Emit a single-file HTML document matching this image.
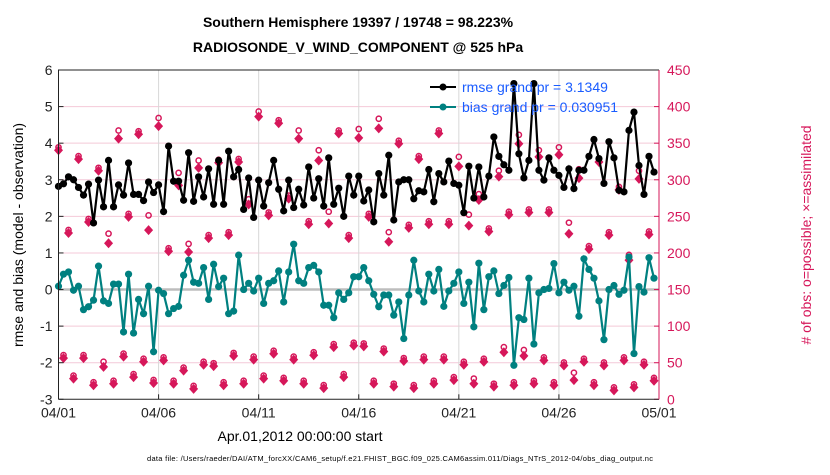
<!DOCTYPE html>
<html><head><meta charset="utf-8"><style>
body{margin:0;background:#fff;width:830px;height:470px;overflow:hidden;font-family:"Liberation Sans",sans-serif}
svg text{font-family:"Liberation Sans",sans-serif}
</style></head><body>
<svg id="chart" width="830" height="470" xmlns="http://www.w3.org/2000/svg">
<text x="358" y="27" text-anchor="middle" font-size="14" font-weight="bold">Southern Hemisphere 19397 / 19748 = 98.223%</text>
<text x="358" y="52" text-anchor="middle" font-size="14" font-weight="bold">RADIOSONDE_V_WIND_COMPONENT @ 525 hPa</text>
<text transform="translate(23,235) rotate(-90)" text-anchor="middle" font-size="14">rmse and bias (model - observation)</text>
<text transform="translate(811,235) rotate(-90)" text-anchor="middle" font-size="14" fill="#d6175a"># of obs: o=possible; ×=assimilated</text>
<text x="300" y="441" text-anchor="middle" font-size="14">Apr.01,2012 00:00:00 start</text>
<text x="400" y="461" text-anchor="middle" font-size="7.5" textLength="506">data file: /Users/raeder/DAI/ATM_forcXX/CAM6_setup/f.e21.FHIST_BGC.f09_025.CAM6assim.011/Diags_NTrS_2012-04/obs_diag_output.nc</text>
<g id="grid"></g><g id="obs"></g><g id="series"></g><g id="axes"></g>
<g>
<line x1="430" y1="87" x2="456" y2="87" stroke="#000" stroke-width="2"/><circle cx="443" cy="87" r="3.5" fill="#000"/>
<text x="462" y="92" font-size="14" fill="#1a5cff">rmse grand pr = 3.1349</text>
<line x1="430" y1="107" x2="456" y2="107" stroke="#008080" stroke-width="2"/><circle cx="443" cy="107" r="3.5" fill="#008080"/>
<text x="462" y="112" font-size="14" fill="#1a5cff">bias grand pr = 0.030951</text>
</g>
</svg>
<script>
const rmse=[2.82,2.89,3.08,3.0,2.79,2.58,2.88,1.82,2.99,2.26,3.53,2.26,2.86,2.58,3.46,2.6,2.6,2.43,2.94,2.65,2.86,2.13,3.92,2.96,2.96,2.44,3.74,2.41,3.08,2.53,3.3,2.33,3.53,2.33,3.78,3.08,3.28,2.19,3.05,1.97,2.99,2.28,2.92,3.53,2.74,2.15,2.99,2.24,2.74,2.31,3.35,2.5,3.03,2.28,3.6,2.33,2.77,2.0,3.1,2.58,3.1,2.42,2.72,1.85,3.17,2.58,3.67,1.9,2.94,3.0,3.0,2.48,2.7,2.67,3.28,2.4,3.17,2.94,3.51,2.9,2.85,2.1,3.37,2.5,3.35,2.53,3.1,4.17,3.64,3.41,3.26,5.63,3.71,3.05,3.53,5.63,3.26,2.99,3.6,3.26,3.12,2.79,3.3,2.76,3.26,3.26,3.64,4.1,3.58,2.9,4.04,3.6,2.71,2.67,4.35,4.85,3.39,2.6,3.64,3.21];
const bias=[0.09,0.42,0.48,-0.02,0.09,-0.55,-0.47,-0.29,0.64,-0.31,-0.38,0.15,0.15,-1.16,0.42,-1.19,-0.27,-0.66,0.09,-1.7,-0.02,-0.11,-0.66,-0.52,-0.46,0.39,0.8,0.2,0.17,0.6,-0.27,0.69,0.08,0.31,-0.66,-0.59,0.94,0.0,0.17,-0.04,0.31,-0.38,0.17,0.24,0.51,-0.34,0.48,1.24,0.24,0.17,0.6,0.66,0.48,-0.43,-0.43,-0.77,-0.09,-0.27,-0.09,0.35,0.35,0.6,0.24,-0.13,-0.47,-0.15,-0.15,-0.7,-0.34,-1.34,-0.15,0.8,-0.04,-0.34,0.42,-0.04,0.55,-0.46,-0.04,0.17,0.48,-0.38,0.2,-1.02,0.72,-0.55,0.35,0.51,-0.11,0.11,0.33,-2.07,-0.77,-0.82,0.31,-1.49,-0.09,0.0,0.03,0.71,-0.09,0.2,-0.02,0.09,-0.73,0.84,0.55,0.31,-0.31,-1.37,0.0,0.11,-0.13,-0.02,0.89,-1.75,0.08,-0.07,0.87,0.31];
const assim=[343,59,230,31,331,59,245,22,315,47,216,24,359,61,252,33,365,54,234,25,376,56,205,24,295,42,204,17,319,50,223,48,326,22,227,62,327,24,269,57,389,31,254,65,380,28,277,57,359,24,242,63,329,18,243,74,366,33,223,76,360,75,252,24,373,68,218,20,352,55,237,18,331,57,242,24,366,57,242,29,321,50,240,24,275,54,232,20,307,67,255,22,352,62,258,24,334,56,258,22,337,49,229,29,305,54,208,22,327,49,227,15,289,56,193,19,304,50,228,28];
const poss=[343,59,230,31,331,59,245,22,315,50,225,24,366,61,252,33,365,54,250,25,383,56,205,24,308,42,211,17,325,50,223,48,326,22,227,62,327,24,272,57,392,31,254,65,380,28,277,57,366,24,242,63,339,18,255,74,366,33,223,76,368,75,252,24,382,68,227,20,352,55,237,18,331,57,242,24,366,57,242,29,330,50,251,27,279,54,232,20,311,70,255,22,360,66,258,24,339,56,258,22,343,49,240,35,313,54,208,22,327,49,227,15,289,56,196,19,311,50,228,28];
const xTicks=['04/01','04/06','04/11','04/16','04/21','04/26','05/01'];
const leftTicks=[-3,-2,-1,0,1,2,3,4,5,6];
const rightTicks=[0,50,100,150,200,250,300,350,400,450];
const X0=58.5,X1=659,Y0=399.3,Y1=70;
const days=30;
const xs=i=>X0+(i/4)*(X1-X0)/days;
const yl=v=>Y0-(v+3)*(Y0-Y1)/9;
const yr=v=>Y0-v*(Y0-Y1)/450;
const NS='http://www.w3.org/2000/svg';
function mk(p,t,a){const e=document.createElementNS(NS,t);for(const k in a)e.setAttribute(k,a[k]);p.appendChild(e);return e;}
const grid=document.getElementById('grid'),axes=document.getElementById('axes'),obs=document.getElementById('obs'),ser=document.getElementById('series');
rightTicks.forEach((v,i)=>{if(i>0&&i<rightTicks.length-1){const l=mk(grid,'line',{x1:X0,x2:X1,y1:yr(v),y2:yr(v),stroke:'#f4c9d8','stroke-width':1});

}});
xTicks.forEach((t,i)=>{const x=X0+i*(X1-X0)/6;
if(i>0&&i<6){const g=mk(grid,'line',{x1:x,x2:x,y1:Y1,y2:Y0,stroke:'#d8d8d8','stroke-width':1});

}
const tk=mk(axes,'line',{x1:x,x2:x,y1:Y0,y2:Y0-5,stroke:'#222'});


const tx=mk(axes,'text',{x:x,y:Y0+18,'text-anchor':'middle','font-size':14,fill:'#222'});tx.textContent=t;

});
const z=mk(grid,'line',{x1:X0,x2:X1,y1:yl(0),y2:yl(0),stroke:'#bdbdbd','stroke-width':2.5});


leftTicks.forEach(v=>{const t=mk(axes,'text',{x:X0-6,y:yl(v)+5,'text-anchor':'end','font-size':14,fill:'#222'});t.textContent=v;


const k=mk(axes,'line',{x1:X0,x2:X0+5,y1:yl(v),y2:yl(v),stroke:'#222'});

});
rightTicks.forEach(v=>{const t=mk(axes,'text',{x:X1+8,y:yr(v)+5,'font-size':14,fill:'#d6175a'});t.textContent=v;


const k=mk(axes,'line',{x1:X1-5,x2:X1,y1:yr(v),y2:yr(v),stroke:'#d6175a'});

});
const fr=mk(axes,'path',{d:`M${X0},${Y0}V${Y1}H${X1}`,fill:'none',stroke:'#222','stroke-width':1});


const bx=mk(axes,'line',{x1:X0,x2:X1,y1:Y0,y2:Y0,stroke:'#222'});


const ra=mk(axes,'line',{x1:X1,x2:X1,y1:Y0,y2:Y1,stroke:'#d6175a'});


poss.forEach((v,i)=>{const c=mk(obs,'circle',{cx:xs(i),cy:yr(v)-1,r:2.6,fill:'none',stroke:'#d6175a','stroke-width':1.5});

});
assim.forEach((v,i)=>{const x=xs(i),y=yr(v)+2;
const d=mk(obs,'path',{d:`M${x},${y-5}L${x+4.5},${y}L${x},${y+5}L${x-4.5},${y}Z`,fill:'#d6175a'});

});
function series(arr,col,name){const pts=arr.map((v,i)=>xs(i)+','+yl(v)).join(' ');
const p=mk(ser,'polyline',{points:pts,fill:'none',stroke:col,'stroke-width':2.2});


arr.forEach((v,i)=>{const c=mk(ser,'circle',{cx:xs(i),cy:yl(v),r:3.6,fill:col});

});}
series(bias,'#008080','bias');
series(rmse,'#000','rmse');
</script>
</body></html>
